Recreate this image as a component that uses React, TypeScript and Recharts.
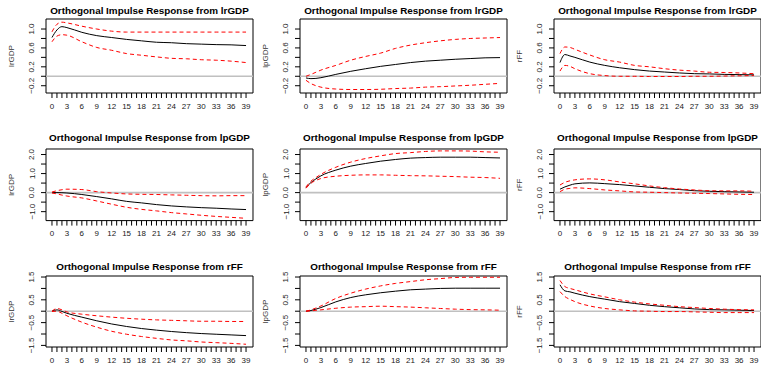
import { LineChart, Line, XAxis, YAxis, ReferenceLine, ReferenceArea } from "recharts";

const steps = [0, 1, 2, 3, 6, 9, 12, 15, 18, 21, 24, 27, 30, 33, 36, 39];

const impulses = ["lrGDP", "lpGDP", "rFF"];
const responses = ["lrGDP", "lpGDP", "rFF"];

// impulse lrGDP
const irfLrLr = [0.82, 0.98, 1.05, 1.03, 0.93, 0.86, 0.82, 0.78, 0.75, 0.72, 0.71, 0.69, 0.68, 0.67, 0.665, 0.65];
const upLrLr = [0.94, 1.1, 1.145, 1.13, 1.06, 1.0, 0.955, 0.935, 0.935, 0.935, 0.935, 0.935, 0.935, 0.935, 0.935, 0.935];
const loLrLr = [0.73, 0.85, 0.88, 0.87, 0.73, 0.61, 0.55, 0.48, 0.445, 0.41, 0.38, 0.37, 0.35, 0.34, 0.32, 0.29];

const irfLrLp = [-0.035, -0.05, -0.045, -0.03, 0.04, 0.105, 0.16, 0.21, 0.25, 0.29, 0.32, 0.34, 0.36, 0.375, 0.39, 0.395];
const upLrLp = [0.0, 0.04, 0.085, 0.13, 0.23, 0.34, 0.42, 0.49, 0.59, 0.66, 0.71, 0.75, 0.78, 0.8, 0.81, 0.82];
const loLrLp = [-0.085, -0.155, -0.2, -0.23, -0.27, -0.28, -0.28, -0.275, -0.26, -0.25, -0.23, -0.22, -0.205, -0.19, -0.17, -0.15];

const irfLrFF = [0.29, 0.46, 0.43, 0.4, 0.3, 0.23, 0.18, 0.14, 0.11, 0.09, 0.07, 0.055, 0.05, 0.04, 0.035, 0.03];
const upLrFF = [0.48, 0.62, 0.61, 0.57, 0.45, 0.35, 0.3, 0.23, 0.2, 0.16, 0.13, 0.11, 0.085, 0.08, 0.07, 0.055];
const loLrFF = [0.11, 0.23, 0.21, 0.16, 0.055, 0.015, 0.0, 0.0, -0.005, -0.005, -0.005, 0.0, 0.0, 0.005, 0.01, 0.015];

// impulse lpGDP
const irfLpLr = [0.0, 0.0, -0.005, -0.02, -0.1, -0.21, -0.33, -0.46, -0.54, -0.63, -0.7, -0.75, -0.79, -0.82, -0.86, -0.89];
const upLpLr = [0.03, 0.1, 0.15, 0.18, 0.16, 0.05, -0.02, -0.07, -0.09, -0.1, -0.12, -0.14, -0.16, -0.17, -0.16, -0.16];
const loLpLr = [-0.02, -0.07, -0.13, -0.18, -0.28, -0.44, -0.61, -0.77, -0.88, -0.96, -1.05, -1.12, -1.19, -1.25, -1.3, -1.35];

const irfLpLp = [0.26, 0.53, 0.72, 0.88, 1.18, 1.39, 1.53, 1.65, 1.74, 1.81, 1.84, 1.86, 1.86, 1.86, 1.84, 1.82];
const upLpLp = [0.3, 0.6, 0.79, 0.96, 1.33, 1.6, 1.79, 1.93, 2.05, 2.1, 2.16, 2.19, 2.19, 2.18, 2.14, 2.12];
const loLpLp = [0.23, 0.49, 0.64, 0.74, 0.86, 0.91, 0.93, 0.93, 0.91, 0.89, 0.88, 0.86, 0.84, 0.81, 0.79, 0.75];

const irfLpFF = [0.18, 0.3, 0.39, 0.46, 0.51, 0.47, 0.42, 0.35, 0.28, 0.21, 0.16, 0.1, 0.07, 0.05, 0.035, 0.02];
const upLpFF = [0.4, 0.54, 0.62, 0.67, 0.72, 0.67, 0.56, 0.46, 0.35, 0.26, 0.19, 0.14, 0.1, 0.09, 0.09, 0.07];
const loLpFF = [0.05, 0.18, 0.22, 0.25, 0.21, 0.14, 0.09, 0.035, 0.02, 0.0, -0.02, -0.035, -0.05, -0.07, -0.09, -0.1];

// impulse rFF
const irfFFLr = [0.0, 0.06, -0.01, -0.09, -0.26, -0.42, -0.56, -0.67, -0.76, -0.83, -0.89, -0.94, -0.98, -1.01, -1.04, -1.07];
const upFFLr = [0.0, 0.12, 0.06, -0.03, -0.13, -0.2, -0.26, -0.31, -0.35, -0.38, -0.4, -0.42, -0.44, -0.44, -0.45, -0.45];
const loFFLr = [-0.01, 0.0, -0.09, -0.2, -0.48, -0.7, -0.88, -1.01, -1.11, -1.19, -1.26, -1.3, -1.35, -1.38, -1.41, -1.45];

const irfFFLp = [0.0, 0.03, 0.09, 0.16, 0.41, 0.6, 0.72, 0.81, 0.88, 0.94, 0.97, 1.0, 1.01, 1.01, 1.01, 1.01];
const upFFLp = [0.0, 0.06, 0.14, 0.23, 0.56, 0.79, 0.97, 1.11, 1.22, 1.3, 1.38, 1.43, 1.48, 1.49, 1.49, 1.49];
const loFFLp = [0.0, 0.015, 0.04, 0.06, 0.13, 0.18, 0.2, 0.22, 0.2, 0.18, 0.15, 0.12, 0.09, 0.07, 0.06, 0.045];

const irfFFFF = [1.16, 0.89, 0.85, 0.79, 0.64, 0.53, 0.42, 0.34, 0.26, 0.2, 0.15, 0.1, 0.07, 0.06, 0.045, 0.03];
const upFFFF = [1.35, 1.08, 1.0, 0.94, 0.76, 0.63, 0.5, 0.4, 0.32, 0.26, 0.2, 0.16, 0.12, 0.09, 0.07, 0.06];
const loFFFF = [0.86, 0.64, 0.52, 0.42, 0.23, 0.12, 0.06, 0.015, 0.0, -0.015, -0.015, -0.03, -0.045, -0.06, -0.06, -0.06];

const panels = [
  [
    [irfLrLr, loLrLr, upLrLr],
    [irfLrLp, loLrLp, upLrLp],
    [irfLrFF, loLrFF, upLrFF],
  ],
  [
    [irfLpLr, loLpLr, upLpLr],
    [irfLpLp, loLpLp, upLpLp],
    [irfLpFF, loLpFF, upLpFF],
  ],
  [
    [irfFFLr, loFFLr, upFFLr],
    [irfFFLp, loFFLp, upFFLp],
    [irfFFFF, loFFFF, upFFFF],
  ],
];

// axis ticks
const xTicks = Array.from({ length: 40 }, (_, i) => i);
const yTicks = [
  [-0.2, 0, 0.2, 0.4, 0.6, 0.8, 1.0],
  [-1, -0.5, 0, 0.5, 1, 1.5, 2],
  [-1.5, -1, -0.5, 0, 0.5, 1, 1.5],
];
const yTickLabels = [
  ["\u22120.2", "", "0.2", "", "0.6", "", "1.0"],
  ["\u22121.0", "", "0.0", "", "1.0", "", "2.0"],
  ["\u22121.5", "", "\u22120.5", "", "0.5", "", "1.5"],
];
const yDomains = [
  [-0.354, 1.212],
  [-1.47, 2.29],
  [-1.57, 1.545],
];
const xDomain = [-1.2, 40.4];

// layout (px)
const colLeft = [0, 254, 508];
const boxTop = [19.3, 148.7, 276.3];
const boxBottom = [93.3, 220.3, 347.3];
const titleY = [11, 137.7, 267.3];
const PAD = 10;
const AXIS_W = 46;
const XAXIS_H = 24;
const PANEL_W = 254;
const BOX_W = 207;

const font = "'Liberation Sans', Arial, Helvetica, sans-serif";

function Panel({ row, col }: { row: number; col: number }) {
  const [irf, lower, upper] = panels[row][col];
  const data = steps.map((t, i) => ({ t, irf: irf[i], lower: lower[i], upper: upper[i] }));
  const boxH = boxBottom[row] - boxTop[row];
  const [yMin, yMax] = yDomains[row];

  const yTick = (p: any) => {
    const idx = yTicks[row].indexOf(p.payload.value);
    const label = idx >= 0 ? yTickLabels[row][idx] : "";
    return (
      <text
        x={32}
        y={p.y}
        transform={`rotate(-90, 32, ${p.y})`}
        textAnchor="middle"
        dominantBaseline="central"
        fontSize={8}
        fill="#222"
        fontFamily={font}
      >
        {label}
      </text>
    );
  };

  return (
    <>
      <div
        style={{
          position: "absolute",
          left: colLeft[col] + AXIS_W - 10,
          top: titleY[row] - 6,
          width: BOX_W + 20,
          height: 12,
          lineHeight: "12px",
          textAlign: "center",
          fontSize: 9.9,
          fontWeight: "bold",
          whiteSpace: "nowrap",
          color: "#000",
        }}
      >
        Orthogonal Impulse Response from {impulses[row]}
      </div>
      <div style={{ position: "absolute", left: colLeft[col], top: boxTop[row] - PAD }}>
        <LineChart
          width={PANEL_W}
          height={boxH + PAD + XAXIS_H}
          data={data}
          margin={{ top: PAD, right: PANEL_W - AXIS_W - BOX_W, bottom: 0, left: 0 }}
        >
          <XAxis
            type="number"
            dataKey="t"
            domain={xDomain}
            ticks={xTicks}
            interval={0}
            allowDataOverflow
            height={XAXIS_H}
            axisLine={false}
            tickLine={{ stroke: "#000" }}
            tickSize={5}
            tickMargin={5}
            tick={{ fontSize: 8, fill: "#222", fontFamily: font }}
            tickFormatter={(v: number) => (v % 3 === 0 ? String(v) : "")}
          />
          <YAxis
            type="number"
            domain={yDomains[row]}
            ticks={yTicks[row]}
            interval={0}
            allowDataOverflow
            width={AXIS_W}
            axisLine={false}
            tickLine={{ stroke: "#000" }}
            tickSize={5}
            tick={yTick}
            label={{
              value: responses[col],
              angle: -90,
              position: "insideLeft",
              offset: 11,
              style: { textAnchor: "middle", fontSize: 8, fill: "#333", fontFamily: font },
            }}
          />
          <ReferenceArea
            x1={xDomain[0]}
            x2={xDomain[1]}
            y1={yMin}
            y2={yMax}
            fill="none"
            fillOpacity={0}
            stroke="#000"
            strokeWidth={1}
          />
          <ReferenceLine y={0} stroke="#c0c0c0" strokeWidth={1.6} />
          <Line type="monotone" dataKey="irf" stroke="#000" strokeWidth={1} dot={false} isAnimationActive={false} />
          <Line
            type="monotone"
            dataKey="upper"
            stroke="#ff0000"
            strokeWidth={1}
            strokeDasharray="4 3"
            dot={false}
            isAnimationActive={false}
          />
          <Line
            type="monotone"
            dataKey="lower"
            stroke="#ff0000"
            strokeWidth={1}
            strokeDasharray="4 3"
            dot={false}
            isAnimationActive={false}
          />
        </LineChart>
      </div>
    </>
  );
}

export default function App() {
  return (
    <div
      style={{
        position: "absolute",
        left: 0,
        top: 0,
        width: 761,
        height: 365,
        overflow: "hidden",
        background: "#fff",
        fontFamily: font,
      }}
    >
      {[0, 1, 2].map((row) =>
        [0, 1, 2].map((col) => <Panel key={`${row}-${col}`} row={row} col={col} />)
      )}
    </div>
  );
}
